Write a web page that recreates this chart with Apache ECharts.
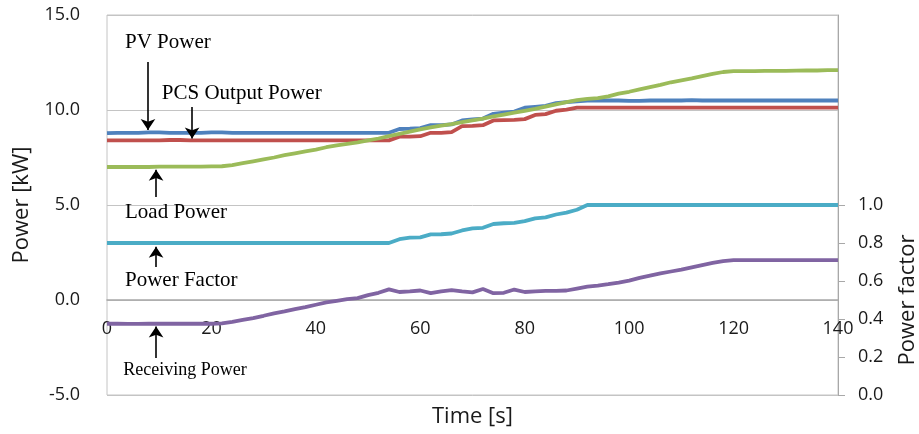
<!DOCTYPE html>
<html>
<head>
<meta charset="utf-8">
<script src="https://cdn.jsdelivr.net/npm/echarts@6/dist/echarts.min.js"></script>
<style>
  html, body { margin: 0; padding: 0; background: #fff; }
  #chart { width: 919px; height: 434px; }
</style>
</head>
<body>
<div id="chart"></div>
<script>
// Sample times (s)
const timeS = [0,2,4,6,8,10,12,14,16,18,20,22,24,26,28,30,32,34,36,38,40,42,44,46,48,50,52,54,
  56,58,60,62,64,66,68,70,72,74,76,78,80,82,84,86,88,90,92,94,96,98,100,102,104,106,108,110,
  112,114,116,118,120,122,124,126,128,130,132,134,136,138,140];

// PV power (kW)
const pvPower = [8.78,8.8,8.8,8.8,8.82,8.82,8.8,8.8,8.8,8.8,8.82,8.82,8.8,8.8,8.8,8.8,8.8,8.8,8.8,8.8,8.8,8.8,8.8,8.8,8.8,8.8,8.8,8.8,
  9.0,9.02,9.05,9.2,9.2,9.24,9.45,9.5,9.55,9.8,9.86,9.92,10.12,10.17,10.22,10.36,10.42,10.46,10.5,
  10.5,10.5,10.5,10.48,10.48,10.5,10.5,10.5,10.5,10.52,10.5,10.5,10.5,10.5,10.5,10.5,10.5,10.5,10.5,10.5,10.5,10.5,10.5,10.5];

// PCS output power (kW)
const pcsPower = [8.4,8.4,8.4,8.4,8.4,8.4,8.42,8.42,8.4,8.4,8.4,8.4,8.4,8.4,8.4,8.4,8.4,8.4,8.4,8.4,8.4,8.4,8.4,8.4,8.4,8.4,8.4,8.4,
  8.6,8.6,8.62,8.8,8.8,8.84,9.15,9.16,9.2,9.45,9.47,9.48,9.52,9.74,9.78,9.96,10.02,10.12,10.12,
  10.12,10.12,10.12,10.12,10.12,10.12,10.12,10.12,10.12,10.12,10.12,10.12,10.12,10.12,10.12,10.12,10.12,10.12,10.12,10.12,10.12,10.12,10.12,10.12];

// Load power (kW)
const loadPower = [7.0,7.0,7.0,7.0,7.0,7.02,7.02,7.02,7.02,7.02,7.03,7.04,
  7.1,7.2,7.3,7.4,7.5,7.62,7.72,7.82,7.92,8.04,8.14,8.22,8.3,8.4,8.5,8.62,8.74,8.86,8.98,9.08,9.18,9.26,
  9.36,9.46,9.55,9.66,9.76,9.86,9.96,10.06,10.18,10.3,10.42,10.52,10.58,10.62,10.72,10.86,10.96,11.08,
  11.2,11.32,11.46,11.56,11.66,11.78,11.9,12.0,
  12.05,12.05,12.05,12.06,12.06,12.06,12.07,12.08,12.08,12.1,12.1];

// Power factor (right axis)
const powerFactor = [0.8,0.8,0.8,0.8,0.8,0.8,0.8,0.8,0.8,0.8,0.8,0.8,0.8,0.8,0.8,0.8,0.8,0.8,0.8,0.8,0.8,0.8,0.8,0.8,0.8,0.8,0.8,0.8,
  0.82,0.828,0.83,0.845,0.846,0.85,0.866,0.877,0.88,0.9,0.904,0.906,0.915,0.93,0.935,0.95,0.96,0.975,1.0,
  1.0,1.0,1.0,1.0,1.0,1.0,1.0,1.0,1.0,1.0,1.0,1.0,1.0,1.0,1.0,1.0,1.0,1.0,1.0,1.0,1.0,1.0,1.0,1.0];

// Receiving power (kW)
const receivingPower = [-1.25,-1.25,-1.26,-1.26,-1.25,-1.25,-1.25,-1.25,-1.25,-1.25,-1.25,
  -1.23,-1.15,-1.05,-0.95,-0.83,-0.7,-0.6,-0.48,-0.38,-0.25,-0.13,-0.04,0.05,0.1,0.26,0.38,0.56,
  0.42,0.45,0.5,0.36,0.45,0.52,0.45,0.4,0.58,0.36,0.38,0.55,0.42,0.45,0.48,0.48,0.5,0.6,
  0.7,0.76,0.83,0.92,1.02,1.16,1.28,1.4,1.5,1.6,1.72,1.84,1.95,2.05,
  2.1,2.1,2.1,2.1,2.1,2.1,2.1,2.1,2.1,2.1,2.1];

// Axis ticks
const powerTicks = [-5, 0, 5, 10, 15];
const timeTicks = [0, 20, 40, 60, 80, 100, 120, 140];
const pfTicks = [0, 0.2, 0.4, 0.6, 0.8, 1.0];

// Callout labels and their arrows, in (time, kW) units
const callouts = [
  { text: 'PV Power',         t: 3.45, kw: 13.53, size: 21 },
  { text: 'PCS Output Power', t: 10.5, kw: 10.89, size: 21 },
  { text: 'Load Power',       t: 3.45, kw: 4.58,  size: 21 },
  { text: 'Power Factor',     t: 3.45, kw: 1.05,  size: 21 },
  { text: 'Receiving Power',  t: 3.1,  kw: -3.68, size: 18 }
];
const arrows = [
  { t: 7.85, from: 12.53, to: 8.95 },
  { t: 16.3, from: 10.16, to: 8.5 },
  { t: 9.4,  from: 5.42,  to: 6.85 },
  { t: 9.4,  from: 1.74,  to: 2.8 },
  { t: 9.4,  from: -3.05, to: -1.4 }
];

const pair = (xs, ys) => xs.map((x, i) => [x, ys[i]]);

const labelFont = { fontFamily: 'Open Sans', fontSize: 18, color: '#1a1a1a' };
const nameFont = { fontFamily: 'Open Sans', fontSize: 22, color: '#1a1a1a' };
const gridGrey = '#C4C4C4';

// Plot box
const gridBox = { left: 107, right: 81, top: 15, bottom: 39 };
const plotHeight = 434 - gridBox.top - gridBox.bottom;
const kwMin = -5, kwMax = 15;
// the time axis runs along the 0 kW line
const timeAxisOffset = -plotHeight * (0 - kwMin) / (kwMax - kwMin);

const chart = echarts.init(document.getElementById('chart'), null, { renderer: 'canvas' });

const lineSeries = (name, data, color, yAxisIndex) => ({
  name, type: 'line', data, yAxisIndex,
  showSymbol: false, symbol: 'none', smooth: false,
  lineStyle: { color, width: 3.8 },
  itemStyle: { color },
  emphasis: { disabled: true },
  animation: false
});

const option = {
  animation: false,
  grid: Object.assign({
    containLabel: false, outerBoundsMode: 'none',
    show: true, borderColor: gridGrey, borderWidth: 1, backgroundColor: 'transparent'
  }, gridBox),
  xAxis: {
    type: 'value', min: 0, max: 140, interval: 20,
    position: 'bottom', offset: timeAxisOffset,
    name: 'Time [s]', nameLocation: 'middle', nameGap: 106,
    nameTextStyle: nameFont,
    axisLine: { show: true, onZero: false, lineStyle: { color: '#A8A8A8', width: 1.5 } },
    axisTick: { show: false },
    axisLabel: Object.assign({ margin: 20, customValues: timeTicks }, labelFont),
    splitLine: { show: false }
  },
  yAxis: [
    {
      type: 'value', min: kwMin, max: kwMax, interval: 5,
      name: 'Power [kW]', nameLocation: 'middle', nameGap: 74,
      nameTextStyle: nameFont,
      axisLine: { show: false },
      axisTick: { show: false },
      axisLabel: Object.assign({ margin: 27, customValues: powerTicks, formatter: v => v.toFixed(1) }, labelFont),
      splitLine: { show: true, lineStyle: { color: gridGrey, width: 1 } }
    },
    {
      type: 'value', min: 0, max: 2, interval: 0.2, position: 'right',
      axisLine: { show: true, lineStyle: { color: '#A8A8A8', width: 1 } },
      axisTick: { show: true, length: 7, customValues: pfTicks, lineStyle: { color: '#A8A8A8' } },
      axisLabel: Object.assign({ margin: 20, customValues: pfTicks, formatter: v => v.toFixed(1) }, labelFont),
      splitLine: { show: false }
    }
  ],
  series: [
    Object.assign(lineSeries('Receiving Power', pair(timeS, receivingPower), '#8064A2', 0), {
      markLine: {
        silent: true,
        symbol: ['none', 'arrow'],
        symbolSize: 11,
        label: { show: false },
        lineStyle: { color: '#000', width: 1.6, type: 'solid' },
        itemStyle: { color: '#000' },
        emphasis: { disabled: true },
        data: arrows.map(a => [{ coord: [a.t, a.from] }, { coord: [a.t, a.to] }])
      }
    }),
    lineSeries('Power Factor', pair(timeS, powerFactor), '#4BACC6', 1),
    lineSeries('PCS Output Power', pair(timeS, pcsPower), '#C0504D', 0),
    lineSeries('PV Power', pair(timeS, pvPower), '#4F81BD', 0),
    lineSeries('Load Power', pair(timeS, loadPower), '#9BBB59', 0)
  ]
};

chart.setOption(option);

// Callout texts and the right-hand axis title, placed through the axis scales
function placeTexts() {
  const elements = callouts.map(c => {
    const p = chart.convertToPixel({ xAxisIndex: 0, yAxisIndex: 0 }, [c.t, c.kw]);
    return {
      type: 'text', x: p[0], y: p[1], silent: true,
      style: {
        text: c.text, fontFamily: 'Liberation Serif, Times New Roman, serif',
        fontSize: c.size, fill: '#000', textAlign: 'left', textVerticalAlign: 'middle'
      }
    };
  });
  const xRight = chart.convertToPixel({ xAxisIndex: 0 }, 140);
  const yMid = chart.convertToPixel({ yAxisIndex: 1 }, 0.5);
  elements.push({
    type: 'text', x: xRight + 70, y: yMid, rotation: Math.PI / 2, silent: true,
    style: {
      text: 'Power factor', fontFamily: 'Open Sans', fontSize: 22, fill: '#1a1a1a',
      textAlign: 'center', textVerticalAlign: 'middle'
    }
  });
  chart.setOption({ graphic: elements });
}
placeTexts();
</script>
</body>
</html>
